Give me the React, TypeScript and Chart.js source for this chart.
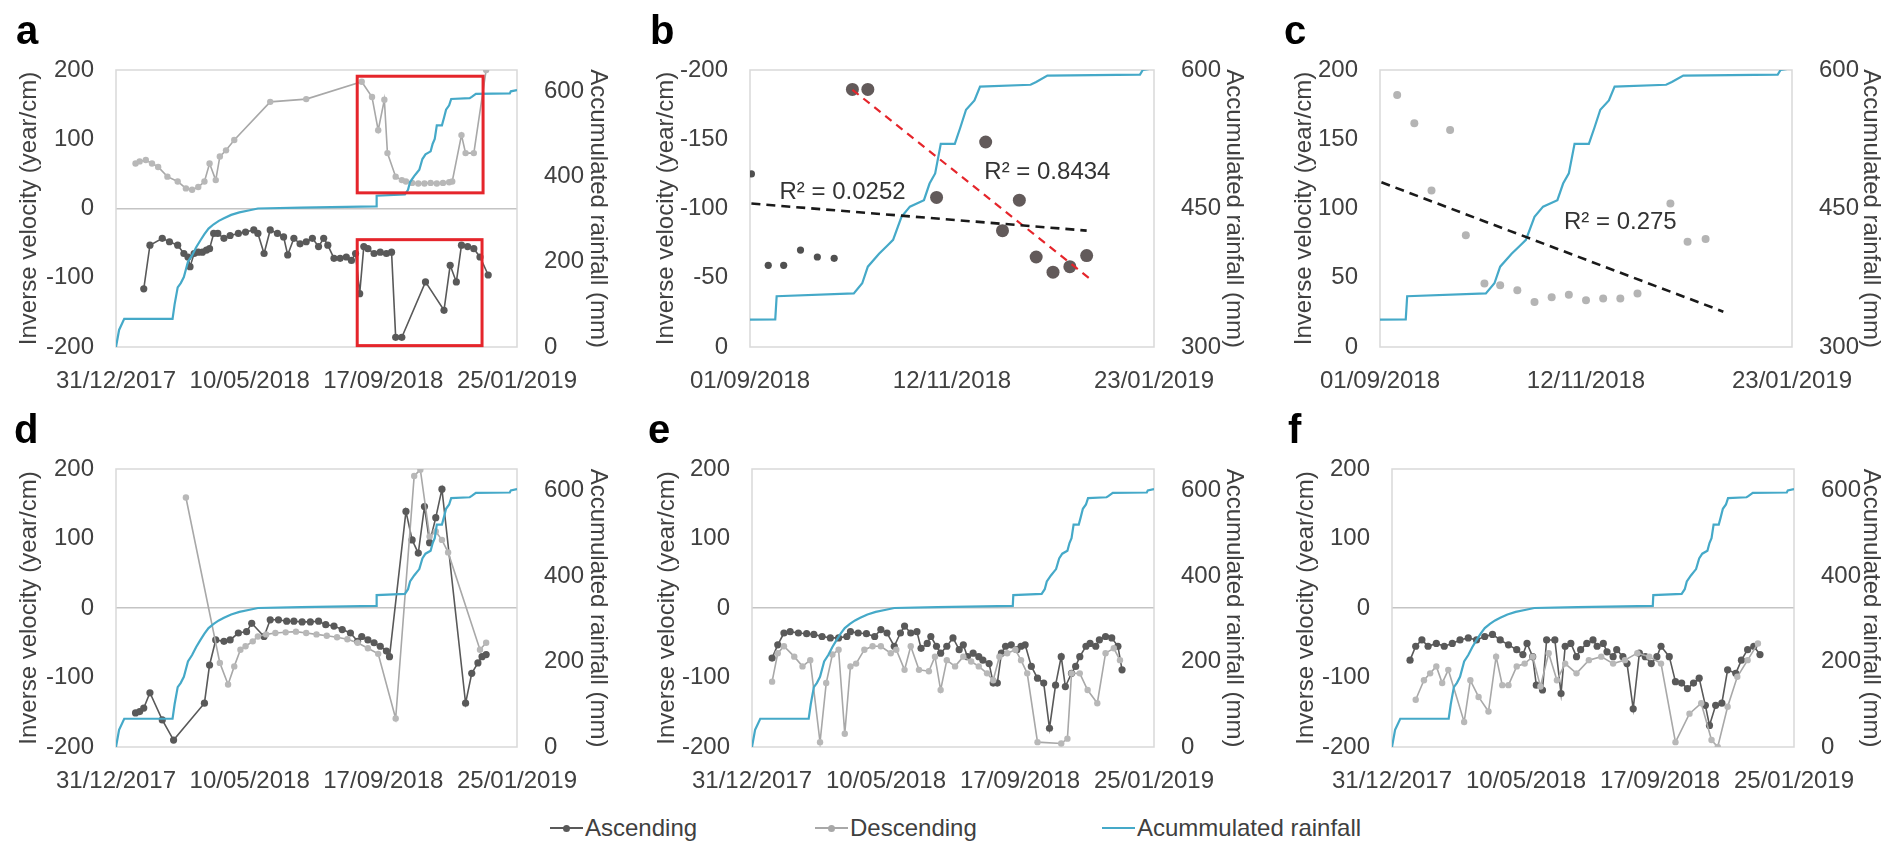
import React, { useEffect, useRef } from 'react';
import { Chart, registerables } from 'chart.js';

Chart.register(...registerables);

const FONT = '"Liberation Sans", Arial, Helvetica, sans-serif';
const TEXT = '#404040';
const C_ASC = '#595959';
const C_DESC = '#a8a8a8';
const C_DESC_PT = '#b8b8b8';
const C_RAIN = '#45a9c8';
const C_RED = '#e5252b';
const C_FRAME = '#d9d9d9';

type Pair = [number, number];

// x values are days counted from 31/12/2017
const BASE_UTC = Date.UTC(2017, 11, 31);
const X_TICKS_FULL = [0, 130, 260, 390];
const X_TICKS_ZOOM = [244, 316, 388];
const VEL_TICKS_FULL = [-200, -100, 0, 100, 200];
const VEL_TICKS_B = [-200, -150, -100, -50, 0];
const VEL_TICKS_C = [0, 50, 100, 150, 200];
const RAIN_TICKS_FULL = [0, 200, 400, 600];
const RAIN_TICKS_ZOOM = [300, 450, 600];
const RAIN_AXIS_MAX_FULL = 650;

// Accumulated rainfall (mm)
const RAIN_DAYS = [0, 3, 8, 55, 57, 60, 63, 66, 70, 74, 78, 82, 86, 90, 95, 100, 105, 112, 120, 130, 138, 180, 253, 253.5, 281, 284, 286, 290, 293, 295, 298, 301, 306, 308, 310, 312, 317, 319, 321, 324, 326, 344, 346, 350, 383, 384, 390];
const RAIN_MM = [0, 40, 66, 66, 100, 140, 150, 164, 200, 215, 234, 250, 265, 278, 288, 296, 302, 310, 316, 321, 325, 327, 330, 355, 358, 369, 387, 401, 410, 416, 441, 452, 459, 477, 488, 520, 520, 538, 557, 567, 582, 584, 587, 594, 595, 600, 603];

// Panel a
const A_ASC: Pair[] = [[27, -116], [33, -53], [45, -43], [52, -48], [60, -53], [66, -65], [70, -70], [72, -84], [76, -65], [80, -63], [84, -63], [88, -60], [91, -58], [95, -36], [99, -36], [105, -43], [111, -39], [119, -36], [126, -34], [134, -31], [138, -36], [144, -65], [150, -31], [157, -36], [163, -41], [167, -67], [173, -43], [179, -51], [185, -48], [191, -43], [197, -55], [202, -43], [206, -53], [212, -72], [218, -72], [224, -70], [229, -75], [233, -65], [237, -123], [241, -55], [245, -58], [251, -65], [257, -63], [263, -65], [268, -63], [272, -186], [278, -186], [301, -106], [319, -147], [325, -82], [331, -106], [336, -53], [342, -55], [348, -58], [354, -70], [362, -96]];
const A_DESC: Pair[] = [[19, 65], [23, 68], [29, 70], [35, 65], [41, 60], [50, 46], [60, 39], [68, 29], [74, 27], [80, 31], [86, 39], [91, 65], [97, 41], [101, 75], [107, 84], [115, 99], [150, 154], [185, 158], [239, 183], [249, 161], [255, 113], [261, 157], [264, 80], [272, 46], [278, 41], [282, 39], [288, 37], [294, 36], [300, 36], [306, 37], [312, 36], [318, 37], [324, 38], [327, 39], [336, 106], [340, 80], [348, 80], [360, 200]];

// Panel d
const D_ASC: Pair[] = [[19, -151], [23, -149], [27, -144], [33, -122], [45, -161], [56, -190], [86, -137], [91, -82], [97, -46], [105, -48], [111, -46], [119, -36], [127, -34], [132, -22], [144, -41], [150, -17], [158, -17], [166, -19], [173, -19], [181, -20], [189, -20], [197, -19], [204, -24], [212, -26], [220, -31], [228, -36], [235, -48], [239, -41], [245, -46], [251, -50], [257, -55], [263, -62], [266, -70], [282, 139], [288, 98], [294, 79], [300, 146], [305, 94], [311, 130], [317, 171], [340, -137], [346, -94], [352, -79], [356, -70], [360, -67]];
const D_DESC: Pair[] = [[68, 159], [101, -79], [109, -110], [115, -84], [121, -60], [126, -55], [133, -48], [138, -41], [146, -38], [155, -36], [165, -35], [175, -34], [185, -36], [195, -38], [205, -40], [215, -42], [225, -45], [235, -50], [245, -58], [255, -66], [272, -159], [290, 190], [296, 199], [305, 103], [311, 110], [317, 98], [323, 80], [354, -60], [360, -50]];

// Panel e
const E_ASC: Pair[] = [[19.5, -72], [25, -53], [31, -36], [37, -34], [45, -36], [53, -37], [60, -38], [68, -41], [76, -43], [84, -43], [92, -41], [95.5, -34], [103, -36], [111, -37], [119, -41], [125, -31], [131, -36], [138, -55], [144, -36], [148, -26], [154, -36], [160, -34], [164, -58], [170, -51], [173.5, -41], [179, -55], [183, -65], [189, -55], [195, -43], [201, -60], [205, -53], [209, -70], [214.5, -65], [220, -70], [224, -75], [230, -80], [234, -108], [238, -108], [242, -65], [246, -55], [251.5, -53], [257, -60], [261, -55], [265, -53], [271, -84], [277, -101], [283, -108], [288.6, -173], [294.5, -111], [300, -70], [304, -113], [310, -94], [314, -84], [318, -70], [324, -55], [328, -51], [333.5, -55], [337, -46], [343, -41], [349, -43], [355, -55], [359, -89]];
const E_DESC: Pair[] = [[19.5, -106], [25, -65], [31, -55], [41, -70], [49, -84], [56.5, -75], [66, -193], [72, -108], [78, -67], [84, -60], [90, -181], [95.5, -84], [101, -80], [109, -60], [117, -55], [125, -55], [134.6, -65], [140, -60], [148, -89], [154, -55], [162, -89], [171.6, -91], [177.5, -70], [183, -118], [189, -75], [197, -84], [205, -70], [212.6, -77], [220, -84], [228, -94], [234, -104], [240, -70], [247.6, -65], [255.5, -60], [261, -75], [267, -94], [277, -193], [300, -195], [306, -188], [310, -94], [318, -94], [325.6, -118], [335, -137], [343, -65], [351, -58], [357, -75]];

// Panel f
const F_ASC: Pair[] = [[17.5, -75], [23, -55], [29, -46], [35, -55], [43, -51], [50.7, -55], [58.5, -51], [66, -46], [74, -43], [82, -46], [90, -41], [97.5, -38], [105, -46], [113, -53], [121, -60], [127, -67], [131, -51], [136.5, -70], [140, -111], [146, -118], [150, -46], [158, -46], [164, -123], [168, -55], [173.5, -51], [179, -70], [183, -60], [189, -51], [195, -46], [199, -55], [205, -51], [208.6, -63], [214.5, -70], [218, -60], [224, -70], [228, -80], [234, -145], [240, -65], [245.7, -70], [251.5, -80], [257, -70], [261, -55], [269, -70], [275, -106], [281, -108], [286.6, -116], [292.5, -108], [298, -101], [304, -140], [308, -169], [314, -140], [320, -137], [325.6, -89], [333.5, -94], [339, -75], [345, -60], [351, -55], [357, -67]];
const F_DESC: Pair[] = [[23, -132], [31, -104], [37, -94], [43, -84], [48.7, -108], [54.6, -89], [70, -164], [76, -104], [84, -128], [93.6, -149], [101, -70], [107, -111], [113, -111], [121, -84], [128.7, -80], [136.5, -70], [144, -113], [152, -65], [160, -104], [168, -80], [179, -94], [191, -75], [203, -70], [214.5, -80], [226, -75], [238, -65], [249.6, -70], [261, -80], [275, -193], [288.6, -152], [300, -137], [310, -190], [316, -200], [325.6, -142], [335, -99], [345, -75], [355, -51]];

// Panel b (ascending, inverse velocity shown negative, axis reversed)
const B_EARLY: Pair[] = [[244.5, -125], [250.5, -59], [256, -59], [262, -70], [268, -65], [274, -64]];
const B_LATE: Pair[] = [[280.5, -186], [286, -186], [310.5, -108], [328, -148], [334, -84], [340, -106], [346, -65], [352, -54], [358, -58], [364, -66]];
const B_TREND_ALL_RANGE = [244.5, 364];
const B_TREND_LATE_RANGE = [280.5, 365];
const B_R2_TEXT = ['R² = 0.0252', 'R² = 0.8434'];
const B_R2_AT: Pair[] = [[277, -112], [350, -126]];

// Panel c (descending)
const C_PTS: Pair[] = [[250, 182], [256, 161.5], [262, 113], [268.5, 156.7], [274, 80.7], [280.5, 45.8], [286, 44.6], [292, 41], [298, 32.5], [304, 36], [310, 37.8], [316, 33.7], [322, 35], [328, 35], [334, 38.6], [345.5, 103.6], [351.5, 76], [357.8, 78]];
const C_TREND_RANGE = [244.5, 364];
const C_R2_TEXT = ['R² = 0.275'];
const C_R2_AT: Pair[] = [[328, 90]];

// Panel a highlighted windows [x0, x1, y0, y1]
const A_RECTS = [[234.6, 357, 191, 22.6], [234.6, 356, -45, -198]];

const LEGEND_LABELS = ['Ascending', 'Descending', 'Acummulated rainfall'];

interface PanelCfg {
  id: string;
  kind: 'series' | 'b' | 'c';
  asc?: Pair[];
  desc?: Pair[];
  box: { x: number; y: number; w: number; h: number };
  plot: { l: number; r: number; t: number; b: number };
  letterPos: { x: number; y: number };
  titleL: number;
  titleR: number;
}

const PANELS: PanelCfg[] = [
  { id: 'a', kind: 'series', asc: A_ASC, desc: A_DESC, box: { x: 0, y: 0, w: 630, h: 400 }, plot: { l: 116, r: 517, t: 70, b: 347 }, letterPos: { x: 16, y: 10 }, titleL: 29, titleR: 598 },
  { id: 'b', kind: 'b', box: { x: 630, y: 0, w: 630, h: 400 }, plot: { l: 750, r: 1154, t: 70, b: 347 }, letterPos: { x: 650, y: 10 }, titleL: 666, titleR: 1234 },
  { id: 'c', kind: 'c', box: { x: 1260, y: 0, w: 629, h: 400 }, plot: { l: 1380, r: 1792, t: 70, b: 347 }, letterPos: { x: 1284, y: 10 }, titleL: 1304, titleR: 1871 },
  { id: 'd', kind: 'series', asc: D_ASC, desc: D_DESC, box: { x: 0, y: 400, w: 630, h: 400 }, plot: { l: 116, r: 517, t: 469, b: 747 }, letterPos: { x: 14, y: 409 }, titleL: 29, titleR: 598 },
  { id: 'e', kind: 'series', asc: E_ASC, desc: E_DESC, box: { x: 630, y: 400, w: 630, h: 400 }, plot: { l: 752, r: 1154, t: 469, b: 747 }, letterPos: { x: 648, y: 409 }, titleL: 667, titleR: 1234 },
  { id: 'f', kind: 'series', asc: F_ASC, desc: F_DESC, box: { x: 1260, y: 400, w: 629, h: 400 }, plot: { l: 1392, r: 1794, t: 469, b: 747 }, letterPos: { x: 1288, y: 409 }, titleL: 1306, titleR: 1871 },
];

function fmtDay(d: number): string {
  const dt = new Date(BASE_UTC + Math.round(d) * 86400000);
  const dd = String(dt.getUTCDate()).padStart(2, '0');
  const mm = String(dt.getUTCMonth() + 1).padStart(2, '0');
  return `${dd}/${mm}/${dt.getUTCFullYear()}`;
}

const toXY = (arr: Pair[]) => arr.map(([x, y]) => ({ x, y }));

function linReg(arr: Pair[]) {
  const n = arr.length;
  const mx = arr.reduce((s, p) => s + p[0], 0) / n;
  const my = arr.reduce((s, p) => s + p[1], 0) / n;
  let sxy = 0;
  let sxx = 0;
  arr.forEach(([x, y]) => {
    sxy += (x - mx) * (y - my);
    sxx += (x - mx) * (x - mx);
  });
  const b = sxy / sxx;
  const a = my - b * mx;
  return (x: number) => a + b * x;
}

function lineDs(label: string, arr: Pair[], color: string, ptColor: string, r: number) {
  return {
    label,
    data: toXY(arr),
    yAxisID: 'y',
    showLine: true,
    borderColor: color,
    borderWidth: 1.6,
    pointRadius: r,
    pointBackgroundColor: ptColor,
    pointBorderColor: ptColor,
    pointBorderWidth: 0,
    fill: false,
  };
}

function dotDs(label: string, arr: Pair[], color: string, r: number) {
  return {
    label,
    data: toXY(arr),
    yAxisID: 'y',
    showLine: false,
    pointRadius: r,
    pointBackgroundColor: color,
    pointBorderColor: color,
    pointBorderWidth: 0,
  };
}

function trendDs(label: string, f: (x: number) => number, range: number[], color: string, dash: number[], w: number) {
  return {
    label,
    data: range.map((x) => ({ x, y: f(x) })),
    yAxisID: 'y',
    showLine: true,
    borderColor: color,
    borderWidth: w,
    borderDash: dash,
    pointRadius: 0,
    fill: false,
  };
}

function extrasPlugin(p: PanelCfg) {
  const rects = p.id === 'a' ? A_RECTS : [];
  const texts = p.kind === 'b' ? B_R2_TEXT : p.kind === 'c' ? C_R2_TEXT : [];
  const at = p.kind === 'b' ? B_R2_AT : p.kind === 'c' ? C_R2_AT : [];
  return {
    id: 'extras_' + p.id,
    beforeDatasetsDraw(chart: any) {
      const { ctx, chartArea: ca } = chart;
      ctx.save();
      ctx.strokeStyle = C_FRAME;
      ctx.lineWidth = 1.5;
      ctx.strokeRect(ca.left, ca.top, ca.right - ca.left, ca.bottom - ca.top);
      ctx.restore();
    },
    afterDatasetsDraw(chart: any) {
      const { ctx, scales } = chart;
      const xs = scales.x;
      const ys = scales.y;
      ctx.save();
      rects.forEach(([x0, x1, y0, y1]) => {
        const px0 = xs.getPixelForValue(x0);
        const px1 = xs.getPixelForValue(x1);
        const py0 = ys.getPixelForValue(y0);
        const py1 = ys.getPixelForValue(y1);
        ctx.strokeStyle = C_RED;
        ctx.lineWidth = 3;
        ctx.strokeRect(Math.min(px0, px1), Math.min(py0, py1), Math.abs(px1 - px0), Math.abs(py1 - py0));
      });
      texts.forEach((t, i) => {
        ctx.font = `24px ${FONT}`;
        ctx.fillStyle = '#333333';
        ctx.textAlign = 'center';
        ctx.textBaseline = 'middle';
        ctx.fillText(t, xs.getPixelForValue(at[i][0]), ys.getPixelForValue(at[i][1]));
      });
      ctx.restore();
    },
  };
}

function buildConfig(p: PanelCfg): any {
  const zoom = p.kind !== 'series';
  const xTicks = zoom ? X_TICKS_ZOOM : X_TICKS_FULL;
  const velTicks = p.kind === 'b' ? VEL_TICKS_B : p.kind === 'c' ? VEL_TICKS_C : VEL_TICKS_FULL;
  const rainTicks = zoom ? RAIN_TICKS_ZOOM : RAIN_TICKS_FULL;
  const rainMax = zoom ? RAIN_TICKS_ZOOM[RAIN_TICKS_ZOOM.length - 1] : RAIN_AXIS_MAX_FULL;
  const leftW = p.plot.l - p.box.x;
  const rightW = p.box.x + p.box.w - p.plot.r;
  const xH = p.box.y + p.box.h - p.plot.b;
  const tickFont = { family: FONT, size: 24 };
  const lh = 24 * 1.2;

  const rain = {
    label: 'Acummulated rainfall',
    data: RAIN_DAYS.map((d, i) => ({ x: d, y: RAIN_MM[i] })),
    yAxisID: 'y1',
    showLine: true,
    borderColor: C_RAIN,
    borderWidth: 2.2,
    pointRadius: 0,
    fill: false,
  };

  let datasets: any[];
  if (p.kind === 'series') {
    datasets = [rain, lineDs('Descending', p.desc!, C_DESC, C_DESC_PT, 3.2), lineDs('Ascending', p.asc!, C_ASC, C_ASC, 3.6)];
  } else if (p.kind === 'b') {
    const fAll = linReg([...B_EARLY, ...B_LATE]);
    const fLate = linReg(B_LATE);
    datasets = [
      trendDs('Trend all', fAll, B_TREND_ALL_RANGE, '#1a1a1a', [9, 6], 2.6),
      trendDs('Trend late', fLate, B_TREND_LATE_RANGE, C_RED, [8, 6], 2.2),
      rain,
      dotDs('Ascending late', B_LATE, '#625a5a', 6.5),
      dotDs('Ascending early', B_EARLY, '#505050', 3.6),
    ];
  } else {
    const f = linReg(C_PTS);
    datasets = [trendDs('Trend', f, C_TREND_RANGE, '#1a1a1a', [9, 6], 2.6), rain, dotDs('Descending', C_PTS, '#b4b4b4', 4)];
  }

  return {
    type: 'scatter',
    data: { datasets },
    options: {
      responsive: false,
      animation: false,
      devicePixelRatio: 1,
      events: [],
      layout: { padding: { top: p.plot.t - p.box.y, left: 0, right: 0, bottom: 0 } },
      plugins: { legend: { display: false }, tooltip: { enabled: false }, title: { display: false } },
      scales: {
        x: {
          type: 'linear',
          min: xTicks[0],
          max: xTicks[xTicks.length - 1],
          afterBuildTicks: (s: any) => {
            s.ticks = xTicks.map((v) => ({ value: v }));
          },
          afterFit: (s: any) => {
            s.height = xH;
          },
          border: { display: false },
          grid: { display: false },
          ticks: {
            autoSkip: false,
            maxRotation: 0,
            minRotation: 0,
            padding: 12,
            color: TEXT,
            font: tickFont,
            callback: (v: any) => fmtDay(Number(v)),
          },
        },
        y: {
          type: 'linear',
          position: 'left',
          min: Math.min(...velTicks),
          max: Math.max(...velTicks),
          reverse: p.kind === 'b',
          afterBuildTicks: (s: any) => {
            s.ticks = velTicks.map((v) => ({ value: v }));
          },
          afterFit: (s: any) => {
            s.width = leftW;
          },
          border: { display: false },
          grid: {
            display: true,
            drawTicks: false,
            lineWidth: 1.5,
            color: (ctx: any) => (!zoom && ctx.tick && ctx.tick.value === 0 ? '#c4c4c4' : 'rgba(0,0,0,0)'),
          },
          ticks: { padding: 22, color: TEXT, font: tickFont },
          title: {
            display: true,
            text: 'Inverse velocity (year/cm)',
            color: TEXT,
            font: tickFont,
            padding: { top: p.titleL - p.box.x - lh / 2, bottom: 0 },
          },
        },
        y1: {
          type: 'linear',
          position: 'right',
          min: rainTicks[0],
          max: rainMax,
          afterBuildTicks: (s: any) => {
            s.ticks = rainTicks.map((v) => ({ value: v }));
          },
          afterFit: (s: any) => {
            s.width = rightW;
          },
          border: { display: false },
          grid: { display: false },
          ticks: { padding: 19, color: TEXT, font: tickFont },
          title: {
            display: true,
            text: 'Accumulated rainfall (mm)',
            color: TEXT,
            font: tickFont,
            padding: { top: p.box.x + p.box.w - p.titleR - lh / 2, bottom: 0 },
          },
        },
      },
    },
    plugins: [extrasPlugin(p)],
  };
}

function Panel({ p }: { p: PanelCfg }) {
  const ref = useRef<HTMLCanvasElement>(null);
  useEffect(() => {
    const chart = new Chart(ref.current as HTMLCanvasElement, buildConfig(p));
    return () => chart.destroy();
  }, [p]);
  return (
    <>
      <canvas
        ref={ref}
        width={p.box.w}
        height={p.box.h}
        style={{ position: 'absolute', left: p.box.x, top: p.box.y, width: p.box.w, height: p.box.h }}
      />
      <div
        style={{
          position: 'absolute',
          left: p.letterPos.x,
          top: p.letterPos.y,
          font: `bold 40px/40px ${FONT}`,
          color: '#000',
        }}
      >
        {p.id}
      </div>
    </>
  );
}

const LEGEND_STYLE = [
  { color: C_ASC, dot: true, lw: 2 },
  { color: C_DESC, dot: true, lw: 2 },
  { color: C_RAIN, dot: false, lw: 2.5 },
];
const LEGEND_LEFT = [550, 815, 1102];
const LEGEND_TOP = 814;

function Legend() {
  return (
    <>
      {LEGEND_LABELS.map((label, i) => {
        const st = LEGEND_STYLE[i];
        return (
          <div
            key={label}
            style={{
              position: 'absolute',
              left: LEGEND_LEFT[i],
              top: LEGEND_TOP,
              height: 28,
              display: 'flex',
              alignItems: 'center',
              font: `24px/28px ${FONT}`,
              color: TEXT,
              whiteSpace: 'nowrap',
            }}
          >
            <span style={{ position: 'relative', display: 'inline-block', width: 33, height: 28, marginRight: 2 }}>
              <span style={{ position: 'absolute', left: 0, right: 0, top: 14 - st.lw / 2, height: st.lw, background: st.color }} />
              {st.dot && (
                <span
                  style={{ position: 'absolute', left: 13, top: 10.5, width: 7, height: 7, borderRadius: '50%', background: st.color }}
                />
              )}
            </span>
            {label}
          </div>
        );
      })}
    </>
  );
}

export default function App() {
  return (
    <div
      style={{
        position: 'absolute',
        left: 0,
        top: 0,
        width: 1889,
        height: 846,
        background: '#ffffff',
        overflow: 'hidden',
      }}
    >
      {PANELS.map((p) => (
        <Panel key={p.id} p={p} />
      ))}
      <Legend />
    </div>
  );
}
